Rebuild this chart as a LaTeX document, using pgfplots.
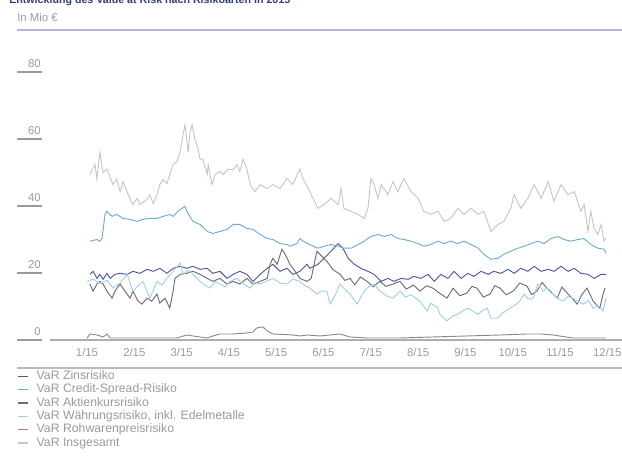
\documentclass[border=0pt]{standalone}
\usepackage{fontspec}
\setmainfont{Liberation Sans}
\usepackage{pgfplots}
\pgfplotsset{compat=1.18}

\definecolor{zins}{HTML}{4B58A6}
\definecolor{credit}{HTML}{6EAAD8}
\definecolor{aktien}{HTML}{6C6C78}
\definecolor{waehrung}{HTML}{9DD0EA}
\definecolor{rohwaren}{HTML}{8A8A8A}
\definecolor{gesamt}{HTML}{C6C6C6}
\definecolor{rulecol}{HTML}{B4B8D6}
\definecolor{titleblue}{HTML}{2E3B8E}
\definecolor{txt}{HTML}{9A9A9A}

\newcommand{\smallfont}{\fontsize{8.5}{10}\selectfont}
\newcommand{\legfont}{\fontsize{9.2}{11}\selectfont}

\begin{document}
\begin{tikzpicture}[x=0.75pt,y=0.75pt]
\begin{axis}[
  name=ax, at={(0,0)}, anchor=south west,
  scale only axis, width=453.75pt, height=201pt,
  xmin=-0.48, xmax=12.31, ymin=0, ymax=80,
  clip=false,
  axis line style={draw=none},
  xtick={1,2,3,4,5,6,7,8,9,10,11,12},
  xticklabels={1/15,2/15,3/15,4/15,5/15,6/15,7/15,8/15,9/15,10/15,11/15,12/15},
  xtick style={draw=none},
  ytick={0,20,40,60,80},
  ytick pos=left, tick align=inside,
  ytick style={draw=txt, line width=0.9pt},
  major tick length=18.75pt,
  xticklabel style={font=\smallfont, text=txt, anchor=base, inner sep=0pt, yshift=-12pt},
  yticklabel style={font=\smallfont, text=txt, anchor=base east, inner sep=0pt, xshift=18pt, yshift=3.75pt},
  /pgf/number format/assume math mode=true,
  legend cell align=left,
  legend style={at={(axis description cs:0,-0.110)}, anchor=north west, draw=none, fill=none,
    inner sep=0pt, font=\legfont, text=txt, row sep=0.1pt,
    nodes={inner sep=0.5pt, text height=6.9pt, text depth=2pt}},
  legend image code/.code={\draw[#1, line width=1.1pt] (0pt,0pt) -- (7.5pt,0pt); \path[draw=none] (0pt,0pt) -- (13.5pt,0pt);},
  every axis plot/.append style={line width=0.7pt, mark=none},
]

\draw[draw=txt!80, line width=0.9pt] (axis cs:0.218,0) -- (axis cs:12.31,0);

% VaR Zinsrisiko
\addplot[zins] coordinates {
(1.06,19.6)(1.13,20.5)(1.21,18.4)(1.27,19.6)(1.34,18.1)(1.42,19.9)(1.49,18.4)(1.59,19.6)
(1.70,19.9)(1.85,19.6)(1.97,20.5)(2.12,19.9)(2.27,21.1)(2.40,20.5)(2.54,21.4)(2.69,19.9)
(2.82,21.4)(2.97,22.0)(3.11,21.4)(3.24,22.0)(3.39,21.1)(3.54,21.4)(3.66,19.9)(3.81,20.5)
(3.96,18.4)(4.09,19.6)(4.23,20.5)(4.38,19.6)(4.51,17.5)(4.66,19.6)(4.81,21.4)(4.93,22.6)
(5.08,20.5)(5.23,21.4)(5.35,19.6)(5.50,20.5)(5.65,22.6)(5.71,21.4)(5.88,22.6)(6.01,24.4)
(6.16,26.5)(6.31,28.8)(6.41,27.4)(6.52,24.4)(6.65,22.6)(6.79,21.4)(6.94,20.5)(7.07,19.6)
(7.22,17.5)(7.36,18.4)(7.49,17.5)(7.64,18.4)(7.79,18.1)(7.91,19.0)(8.06,18.4)(8.21,19.6)
(8.34,17.5)(8.48,19.6)(8.63,18.4)(8.76,20.5)(8.91,18.4)(9.05,19.9)(9.18,19.0)(9.33,20.5)
(9.48,19.6)(9.60,20.5)(9.75,19.9)(9.90,21.1)(10.03,19.9)(10.17,21.4)(10.32,20.5)(10.45,22.0)
(10.60,20.5)(10.75,21.1)(10.87,20.5)(11.02,22.0)(11.17,20.5)(11.30,21.4)(11.44,19.9)(11.59,19.6)
(11.72,18.4)(11.87,19.6)(11.97,19.6)
};
\addlegendentry{VaR Zinsrisiko}

% VaR Credit-Spread-Risiko
\addplot[credit] coordinates {
(1.06,29.5)(1.21,30.0)(1.27,29.5)(1.32,30.4)(1.38,37.5)(1.42,38.4)(1.53,36.9)(1.63,37.5)
(1.76,36.3)(1.91,36.0)(2.06,35.4)(2.18,36.0)(2.33,36.3)(2.48,36.3)(2.61,36.9)(2.75,37.5)
(2.82,36.9)(2.92,38.4)(3.01,39.3)(3.07,39.9)(3.11,38.4)(3.24,35.4)(3.39,34.5)(3.54,32.4)
(3.66,31.8)(3.81,32.4)(3.96,33.0)(4.09,34.5)(4.23,34.5)(4.38,33.3)(4.51,33.0)(4.66,31.5)
(4.81,30.3)(4.93,30.0)(5.08,28.8)(5.23,28.5)(5.29,28.0)(5.44,28.8)(5.50,30.3)(5.57,29.5)
(5.71,28.5)(5.88,27.4)(6.01,28.0)(6.16,28.5)(6.31,28.0)(6.43,27.4)(6.58,27.4)(6.73,28.5)
(6.86,29.5)(7.00,30.9)(7.15,31.5)(7.28,30.9)(7.43,31.5)(7.57,30.3)(7.70,30.0)(7.85,29.5)
(8.00,28.8)(8.12,28.0)(8.27,28.5)(8.42,29.5)(8.55,28.8)(8.69,29.5)(8.84,28.8)(8.97,29.5)
(9.12,28.5)(9.27,27.4)(9.39,25.6)(9.54,24.1)(9.69,24.4)(9.81,25.6)(9.96,26.5)(10.11,27.4)
(10.24,28.0)(10.39,28.8)(10.53,29.5)(10.66,28.8)(10.81,30.3)(10.96,30.9)(11.08,30.0)(11.23,29.5)
(11.38,30.0)(11.51,30.3)(11.65,28.5)(11.80,27.4)(11.93,27.1)(11.97,25.9)
};
\addlegendentry{VaR Credit-Spread-Risiko}

% VaR Aktienkursrisiko
\addplot[aktien] coordinates {
(1.06,16.7)(1.13,14.6)(1.21,16.7)(1.27,17.5)(1.34,16.7)(1.42,14.6)(1.53,12.5)(1.59,14.6)
(1.70,16.7)(1.80,14.6)(1.91,12.5)(1.97,14.6)(2.08,11.6)(2.16,10.7)(2.27,12.5)(2.37,11.6)
(2.48,13.7)(2.54,11.0)(2.65,12.5)(2.75,9.5)(2.82,14.6)(2.86,18.4)(2.97,19.6)(3.11,19.9)
(3.24,20.5)(3.39,19.6)(3.54,18.4)(3.66,17.5)(3.81,18.4)(3.96,16.7)(4.09,17.5)(4.23,16.7)
(4.38,18.4)(4.51,16.7)(4.66,17.5)(4.81,18.4)(4.87,22.6)(4.93,24.4)(5.02,22.6)(5.12,27.1)
(5.19,25.6)(5.29,22.6)(5.40,20.5)(5.50,18.4)(5.65,17.5)(5.74,18.4)(5.86,26.5)(6.07,23.5)
(6.20,21.0)(6.35,19.6)(6.45,17.8)(6.56,18.4)(6.66,16.5)(6.78,18.8)(6.92,17.5)(7.05,15.9)
(7.19,17.5)(7.32,16.0)(7.47,16.7)(7.62,17.5)(7.75,15.2)(7.90,16.4)(8.04,14.6)(8.18,16.2)
(8.31,15.5)(8.45,14.0)(8.61,12.5)(8.74,15.5)(8.88,13.2)(9.03,14.0)(9.14,16.0)(9.24,15.5)
(9.38,12.8)(9.52,13.7)(9.62,16.2)(9.73,15.5)(9.86,13.5)(10.01,14.6)(10.15,17.0)(10.30,16.1)
(10.40,13.6)(10.51,14.6)(10.62,17.2)(10.72,15.5)(10.83,14.0)(10.94,12.5)(11.04,15.8)(11.15,14.0)
(11.25,12.6)(11.36,10.7)(11.46,13.5)(11.57,15.5)(11.70,11.6)(11.84,9.5)(11.91,13.7)(11.95,15.5)
};
\addlegendentry{VaR Aktienkursrisiko}

% VaR Waehrungsrisiko, inkl. Edelmetalle
\addplot[waehrung] coordinates {
(1.00,17.5)(1.13,18.2)(1.27,16.9)(1.42,17.8)(1.55,15.5)(1.70,17.0)(1.85,19.6)(1.97,14.6)
(2.08,16.2)(2.18,17.5)(2.33,12.5)(2.48,17.5)(2.58,16.4)(2.69,18.4)(2.82,20.5)(2.97,23.0)
(3.03,19.6)(3.14,20.8)(3.24,19.6)(3.39,17.5)(3.50,16.2)(3.60,15.5)(3.71,17.4)(3.81,16.7)
(3.92,15.8)(4.02,17.5)(4.17,18.4)(4.23,17.5)(4.35,16.4)(4.45,15.5)(4.55,17.2)(4.66,16.7)
(4.80,17.6)(4.93,18.4)(5.08,17.0)(5.23,16.7)(5.35,18.2)(5.50,17.5)(5.60,16.3)(5.71,15.5)
(5.86,13.7)(5.95,14.6)(6.07,14.6)(6.14,10.7)(6.25,13.5)(6.35,16.7)(6.46,15.0)(6.56,13.7)
(6.71,10.7)(6.86,14.6)(6.92,15.5)(7.07,16.7)(7.19,14.6)(7.33,13.2)(7.47,12.5)(7.62,14.6)
(7.73,12.8)(7.85,13.5)(8.04,11.6)(8.19,8.6)(8.27,11.0)(8.42,9.5)(8.46,7.7)(8.61,5.7)
(8.73,7.2)(8.84,7.7)(8.95,8.8)(9.05,9.5)(9.16,8.6)(9.27,7.7)(9.37,8.9)(9.46,9.5)
(9.54,6.5)(9.67,6.5)(9.80,8.2)(9.94,9.5)(10.05,10.4)(10.15,11.6)(10.24,13.7)(10.33,12.2)
(10.43,12.5)(10.53,16.7)(10.64,14.6)(10.72,15.6)(10.81,14.6)(10.85,13.7)(10.96,12.4)(11.06,11.6)
(11.17,13.0)(11.27,12.5)(11.38,11.6)(11.49,10.7)(11.60,11.8)(11.70,9.5)(11.80,10.3)(11.87,9.5)
(11.91,8.6)(11.97,12.5)
};
\addlegendentry{VaR Währungsrisiko, inkl. Edelmetalle}

% VaR Rohwarenpreisrisiko
\addplot[rohwaren] coordinates {
(1.00,0.5)(1.06,1.8)(1.21,1.5)(1.34,0.9)(1.42,1.8)(1.49,0.6)(1.85,0.6)(2.54,0.6)
(2.90,0.6)(3.11,1.5)(3.24,1.2)(3.54,0.6)(3.66,1.2)(3.81,1.8)(4.09,1.8)(4.38,2.1)
(4.51,2.4)(4.59,3.6)(4.72,3.9)(4.81,2.7)(4.93,1.8)(5.35,1.5)(5.50,1.2)(5.65,1.5)
(5.93,1.2)(6.35,1.8)(6.56,0.9)(6.92,0.6)(7.62,0.6)(8.31,0.9)(9.03,1.2)(9.73,1.5)
(10.30,1.8)(10.58,1.8)(10.85,1.5)(11.27,0.6)(11.97,0.6)
};
\addlegendentry{VaR Rohwarenpreisrisiko}

% VaR Insgesamt
\addplot[gesamt] coordinates {
(1.06,49.4)(1.17,52.4)(1.21,48.0)(1.27,56.0)(1.34,50.0)(1.42,51.0)(1.55,46.4)(1.63,48.0)
(1.70,44.3)(1.76,47.3)(1.87,43.4)(1.97,40.4)(2.06,42.3)(2.12,40.4)(2.27,42.0)(2.33,43.4)
(2.40,40.7)(2.48,43.4)(2.54,46.4)(2.61,47.9)(2.69,46.7)(2.75,49.4)(2.82,52.4)(2.90,53.2)
(2.97,56.2)(3.03,61.3)(3.07,64.2)(3.11,60.0)(3.14,56.0)(3.18,62.2)(3.22,64.2)(3.28,60.0)
(3.35,57.0)(3.39,54.0)(3.45,54.0)(3.54,49.4)(3.56,52.4)(3.64,46.4)(3.71,49.4)(3.81,50.3)
(3.88,49.4)(3.98,51.0)(4.09,50.8)(4.17,52.4)(4.23,50.3)(4.30,54.0)(4.38,51.0)(4.45,46.4)
(4.55,44.3)(4.66,46.4)(4.81,45.2)(4.93,46.4)(5.08,45.2)(5.23,48.2)(5.35,46.4)(5.50,51.0)
(5.57,48.0)(5.71,44.3)(5.74,43.4)(5.88,39.3)(6.01,40.4)(6.16,42.3)(6.31,40.4)(6.37,45.2)
(6.43,39.3)(6.58,38.4)(6.73,37.5)(6.86,36.3)(6.94,39.3)(7.00,48.2)(7.07,46.4)(7.15,42.3)
(7.22,46.4)(7.36,43.4)(7.47,47.3)(7.57,44.3)(7.70,48.2)(7.85,44.3)(8.00,42.3)(8.12,38.4)
(8.27,37.5)(8.42,38.4)(8.55,35.4)(8.69,36.3)(8.84,39.3)(8.97,37.5)(9.12,39.3)(9.27,37.5)
(9.39,38.4)(9.54,32.4)(9.69,34.5)(9.81,35.4)(9.96,39.3)(10.03,43.4)(10.17,39.3)(10.32,42.3)
(10.45,46.4)(10.60,42.3)(10.75,47.3)(10.87,41.4)(11.02,46.4)(11.17,43.4)(11.30,44.3)(11.44,38.4)
(11.51,40.4)(11.59,32.4)(11.65,38.4)(11.72,33.3)(11.80,31.5)(11.87,34.5)(11.93,29.5)(11.97,30.3)
};
\addlegendentry{VaR Insgesamt}

\end{axis}
\pgfresetboundingbox
\begin{scope}[shift={(ax.south west)}]
\useasboundingbox (-17,-128) rectangle (605,340);
% title (cut off at the top edge) and unit
\node[anchor=base west, inner sep=0pt, font=\fontsize{8}{10}\selectfont\bfseries, text=titleblue]
  at (-8,336) {Entwicklung des Value at Risk nach Risikoarten in 2015};
\node[anchor=west, inner sep=0pt, font=\smallfont, text=txt] at (0,323) {In Mio €};
\draw[rulecol, line width=1.1pt] (0,310) -- (605,310);
\draw[rulecol, line width=1.1pt] (0,-28) -- (605,-28);
\end{scope}
\end{tikzpicture}
\end{document}
